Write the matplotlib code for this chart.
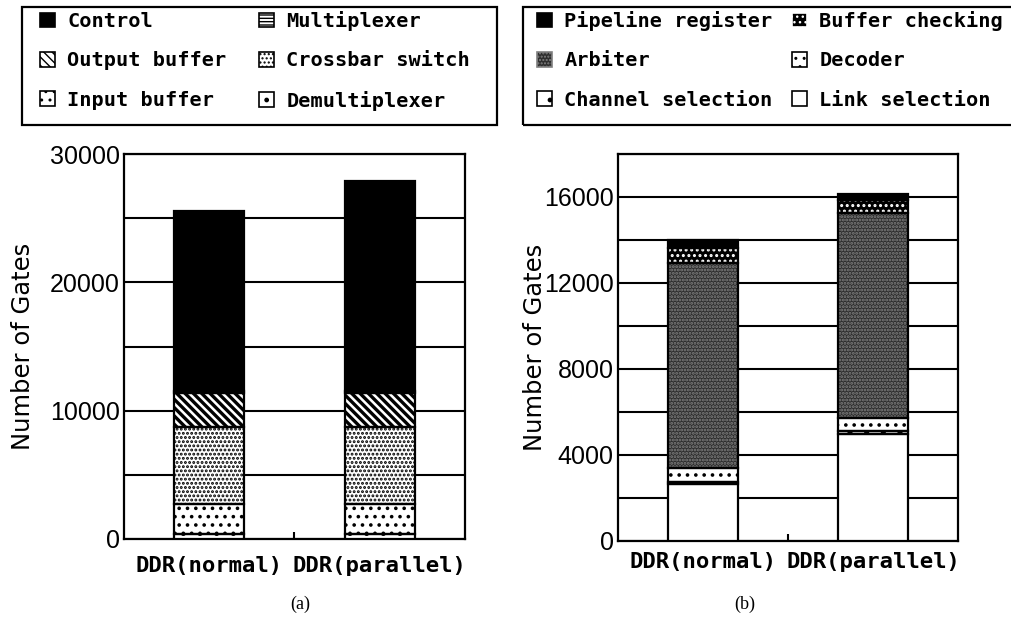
import matplotlib
matplotlib.use("Agg")
import matplotlib.pyplot as plt
from matplotlib.patches import Patch, Rectangle
from matplotlib.ticker import MultipleLocator

# gate counts per router component, bottom of the stack first
configs = ["DDR(normal)", "DDR(parallel)"]

demux = [400, 400]
input_buf = [2330, 2330]
crossbar = [6000, 6000]
output_buf = [2650, 2650]
mux = [150, 150]
control = [14030, 16370]

link_sel = [2650, 5000]
channel_sel = [100, 100]
decoder = [650, 600]
arbiter = [9530, 9550]
buf_check = [720, 620]
pipeline = [350, 280]

MONO = ["DejaVu Sans Mono"]
W, H = 1012, 617

# fill, hatch colour, hatch
styles_a = {
    "Demultiplexer": ("white", "black", "."),
    "Input buffer": ("white", "black", ".."),
    "Crossbar switch": ("white", "black", "...."),
    "Output buffer": ("white", "black", "\\\\\\\\"),
    "Multiplexer": ("white", "black", "-----"),
    "Control": ("black", "black", None),
}
styles_b = {
    "Link selection": ("white", "black", None),
    "Channel selection": ("white", "black", "."),
    "Decoder": ("white", "black", ".."),
    "Arbiter": ("0.18", "0.5", "....."),
    "Buffer checking": ("black", "white", "..."),
    "Pipeline register": ("black", "black", None),
}


def stack(ax, series, styles):
    bottom = [0] * len(configs)
    x = list(range(len(configs)))
    for name, vals in series:
        fc, hc, hatch = styles[name]
        # hatch layer, hatch colour comes from the edge colour
        bars = ax.bar(x, vals, bottom=bottom, width=0.41, color=fc,
                      edgecolor=hc, hatch=hatch, linewidth=0, zorder=3)
        for b in bars:
            b.set_hatch_linewidth(2.4 if name == "Output buffer" else 1.4)
        # outline layer
        ax.bar(x, vals, bottom=bottom, width=0.41, fill=False,
               edgecolor="black", linewidth=1.6, zorder=4)
        bottom = [b + v for b, v in zip(bottom, vals)]


def setup(ax, top, major, minor, xpad):
    ax.set_xlim(-0.5, 1.5)
    ax.set_ylim(0, top)
    ax.yaxis.set_major_locator(MultipleLocator(major))
    ax.yaxis.set_minor_locator(MultipleLocator(minor))
    ax.grid(axis="y", which="both", color="black", linewidth=1.5, zorder=1)
    ax.set_axisbelow(True)
    ax.set_xticks(range(len(configs)))
    ax.set_xticklabels(configs, family=MONO, fontsize=16, fontweight="bold")
    ax.set_xticks([0.5], minor=True)
    ax.tick_params(axis="x", which="major", length=0, pad=xpad)
    ax.tick_params(axis="x", which="minor", direction="in", length=5, width=1.5)
    ax.tick_params(axis="y", which="both", length=0, pad=3, labelsize=18)
    for lab in ax.get_yticklabels():
        lab.set_family("Liberation Sans")
    for s in ax.spines.values():
        s.set_linewidth(1.6)
    ax.set_ylabel("Number of Gates", fontsize=17.5)


def legend_box(fig, styles, order, x0, x1, hx, colsp):
    # frame drawn by hand, entries placed inside it
    fig.patches.append(Rectangle((x0 / W, 1 - 125 / H), (x1 - x0) / W, 118 / H,
                                 transform=fig.transFigure, fill=False,
                                 edgecolor="black", linewidth=1.6))
    handles = []
    for name in order:
        fc, hc, hatch = styles[name]
        handles.append(Patch(facecolor=fc, edgecolor=hc if hatch else "black",
                             hatch=hatch, linewidth=1.2, label=name))
    leg = fig.legend(handles=handles, ncol=2, loc="upper left",
                     bbox_to_anchor=(hx / W, 1 - 11 / H), frameon=False,
                     borderaxespad=0, borderpad=0,
                     prop={"family": MONO, "size": 14.6, "weight": "bold"},
                     handlelength=0.75, handleheight=0.75, handletextpad=0.6,
                     labelspacing=1.0, columnspacing=colsp)
    return leg


fig = plt.figure(figsize=(W / 100, H / 100), dpi=100)
ax1 = fig.add_axes([124 / W, 1 - 539 / H, 341 / W, 385 / H])
ax2 = fig.add_axes([618 / W, 1 - 541 / H, 340 / W, 387 / H])

stack(ax1, [("Demultiplexer", demux), ("Input buffer", input_buf),
            ("Crossbar switch", crossbar), ("Output buffer", output_buf),
            ("Multiplexer", mux), ("Control", control)], styles_a)
setup(ax1, 30000, 10000, 5000, 12)

stack(ax2, [("Link selection", link_sel), ("Channel selection", channel_sel),
            ("Decoder", decoder), ("Arbiter", arbiter),
            ("Buffer checking", buf_check), ("Pipeline register", pipeline)], styles_b)
setup(ax2, 18000, 4000, 2000, 8)

ax1.yaxis.set_label_coords(-0.26, 0.5)
ax2.yaxis.set_label_coords(-0.21, 0.5)

legend_box(fig, styles_a, ["Control", "Output buffer", "Input buffer",
                           "Multiplexer", "Crossbar switch", "Demultiplexer"],
           22, 497, 40, 1.6)
legend_box(fig, styles_b, ["Pipeline register", "Arbiter", "Channel selection",
                           "Buffer checking", "Decoder", "Link selection"],
           523, 1020, 537, 0.95)

fig.text(300 / W, 1 - 604 / H, "(a)", family="Liberation Serif",
         fontsize=13, ha="center", va="center")
fig.text(745 / W, 1 - 604 / H, "(b)", family="Liberation Serif",
         fontsize=13, ha="center", va="center")

fig.savefig("out.png", dpi=100)
